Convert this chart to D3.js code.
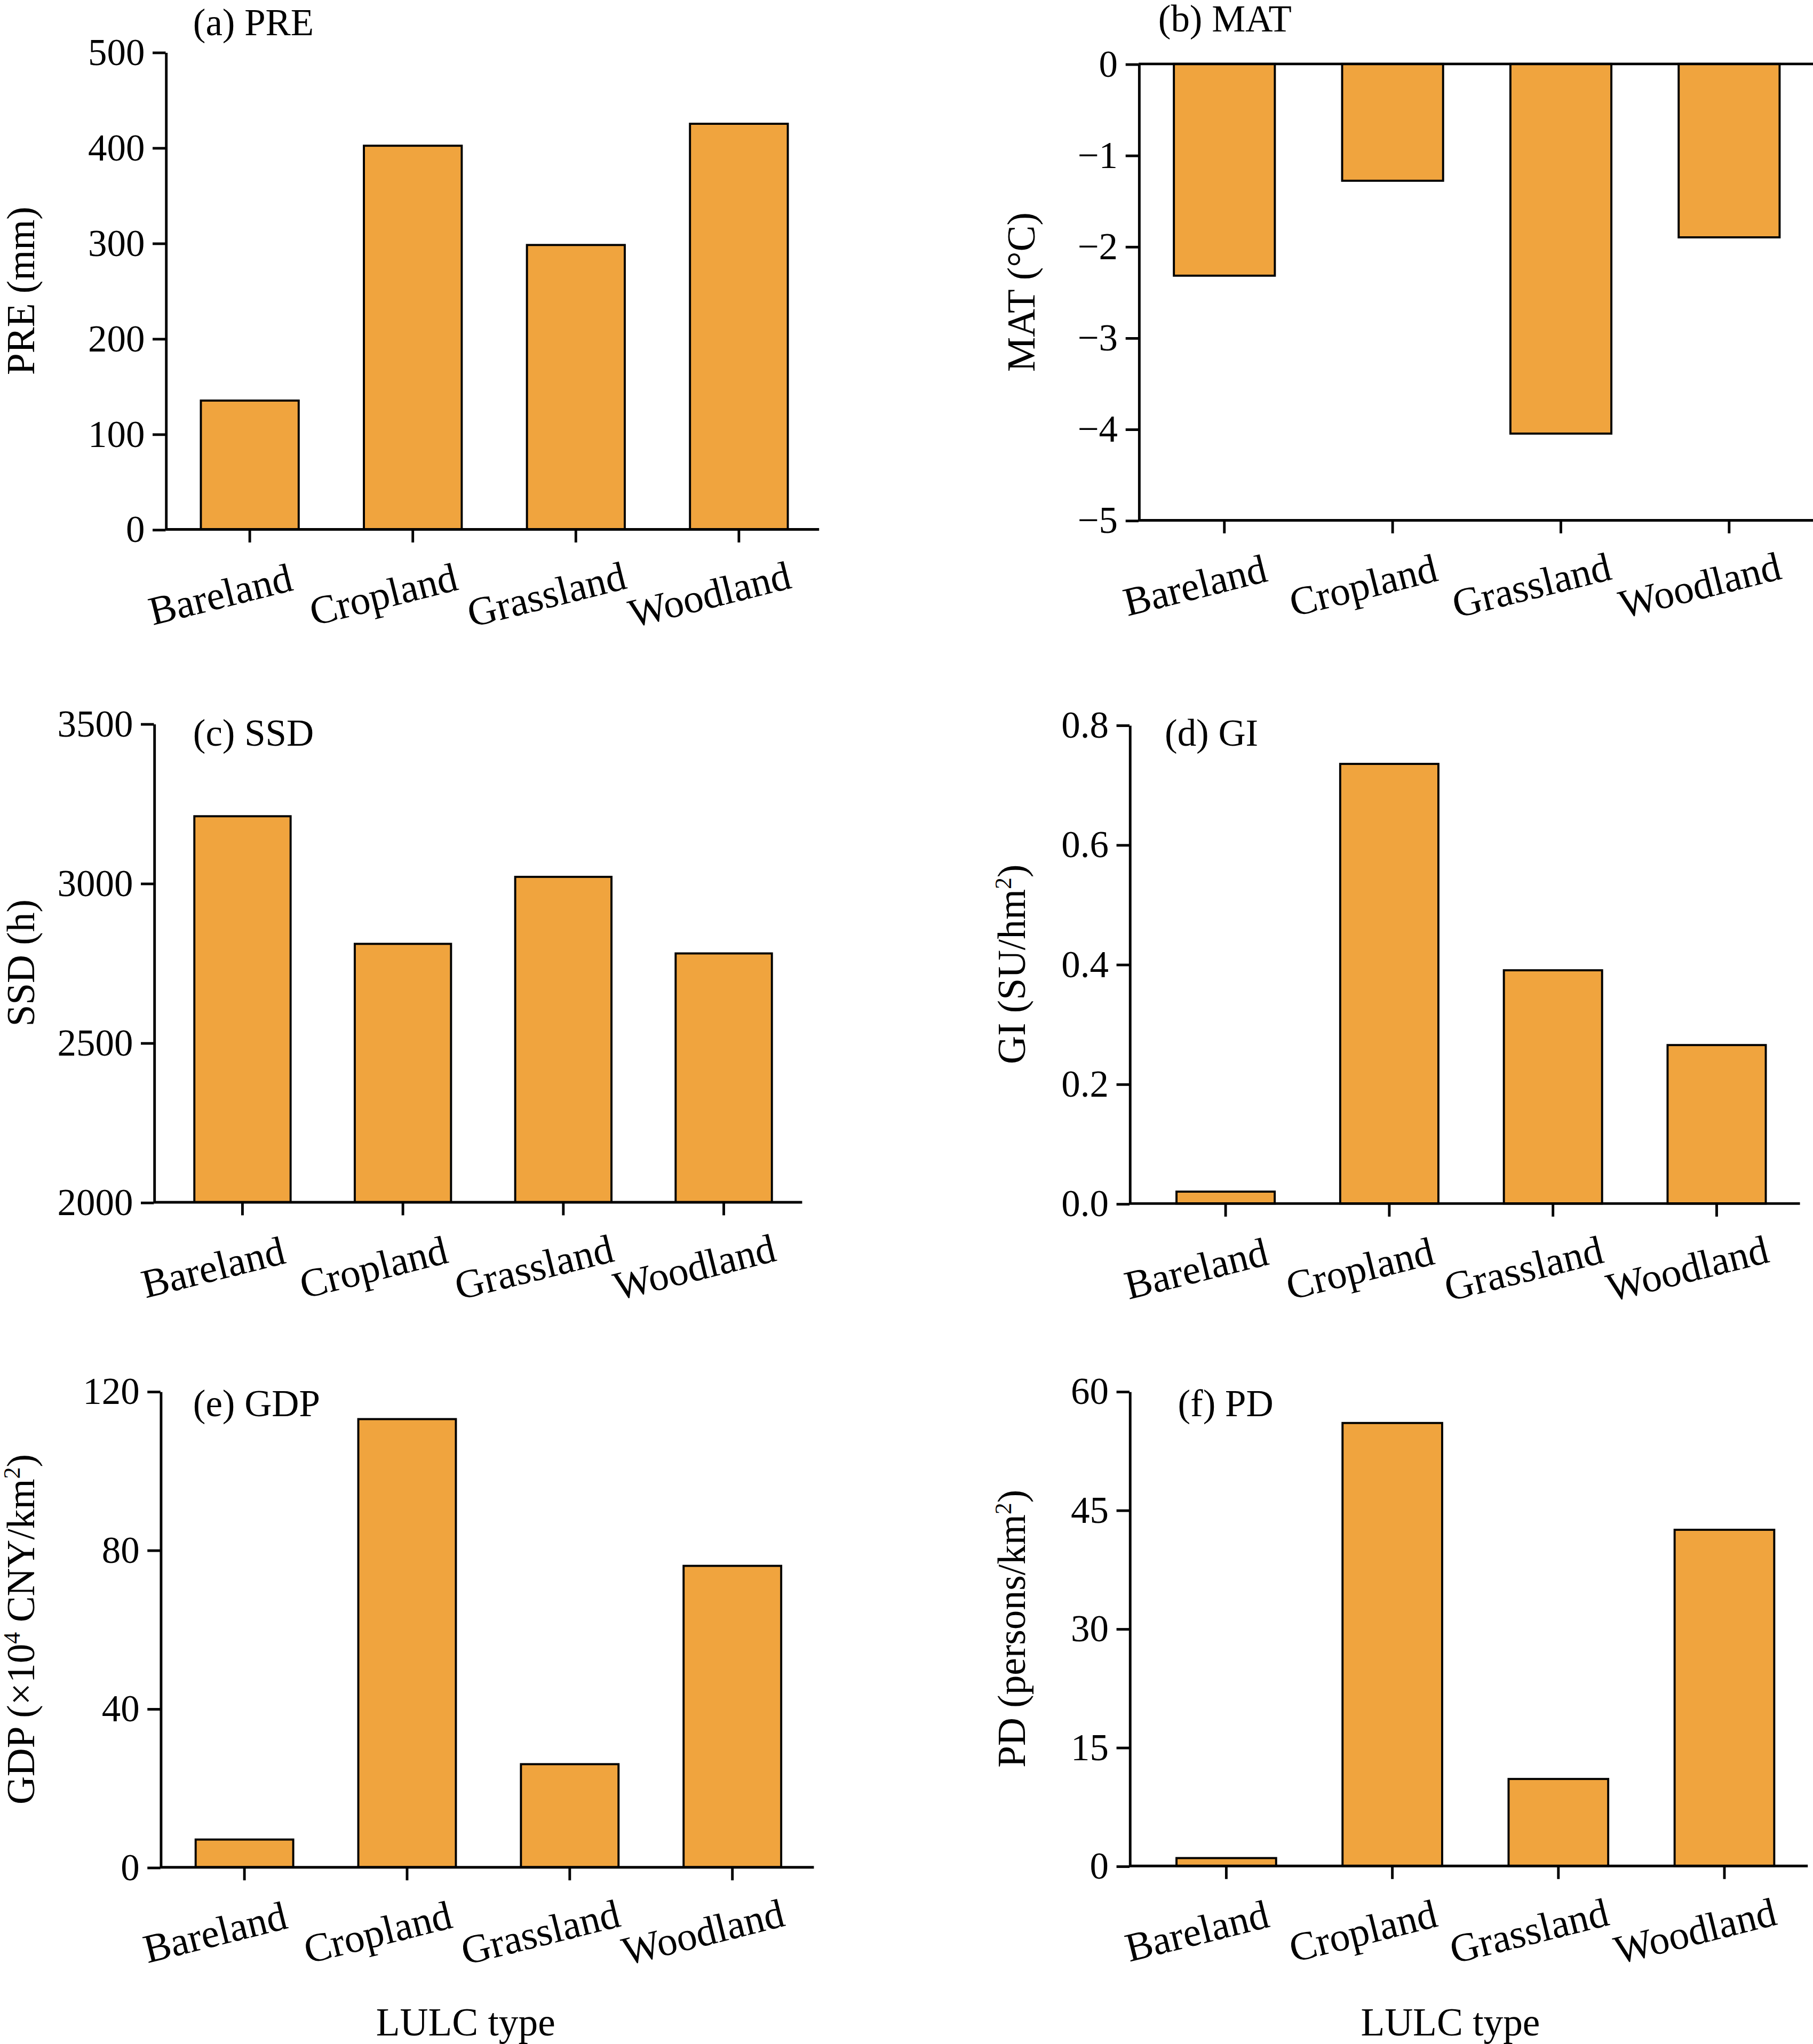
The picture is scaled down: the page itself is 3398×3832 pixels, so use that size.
<!DOCTYPE html>
<html><head><meta charset="utf-8">
<script src="https://cdn.jsdelivr.net/npm/d3@7"></script>
<style>body{margin:0;background:#fff}</style>
</head><body>
<div id="chart"></div>
<script>
const W = 3398, H = 3832;
const categories = ['Bareland', 'Cropland', 'Grassland', 'Woodland'];
const preValues = [135, 402, 298, 425];
const matValues = [-2.32, -1.28, -4.05, -1.9];
const ssdValues = [3210, 2810, 3020, 2780];
const giValues = [0.02, 0.735, 0.39, 0.265];
const gdpValues = [7, 113, 26, 76];
const pdValues = [1, 56, 11, 42.5];
const preTicks = [0, 100, 200, 300, 400, 500];
const matTicks = [0, -1, -2, -3, -4, -5];
const ssdTicks = [2000, 2500, 3000, 3500];
const giTicks = [0, 0.2, 0.4, 0.6, 0.8];
const gdpTicks = [0, 40, 80, 120];
const pdTicks = [0, 15, 30, 45, 60];

const BAR = '#f0a43e';
const FONT = '"Liberation Serif", "Times New Roman", serif';

let svg = d3.select('#chart').append('svg')
  .attr('width', W).attr('height', H)
  .attr('viewBox', '0 0 1390 1567.5')
  .style('font-family', FONT);

let panels = [
  { title: '(a) PRE', tx: 148, ty: 27, values: preValues, ticks: preTicks, domain: [0, 500],
    ax: 127, axEnd: 628, top: 40, bottom: 406, first: 154, step: 125, fmt: d => d,
    label: [{t: 'PRE (mm)'}], lx: 26 },
  { title: '(b) MAT', tx: 888, ty: 24, values: matValues, ticks: matTicks, domain: [-5, 0],
    ax: 873, axEnd: 1390, top: 49, bottom: 399, first: 900, step: 129, fmt: d => d < 0 ? '\u2212' + (-d) : d,
    label: [{t: 'MAT (°C)'}], lx: 793, neg: true },
  { title: '(c) SSD', tx: 148, ty: 572, values: ssdValues, ticks: ssdTicks, domain: [2000, 3500],
    ax: 118, axEnd: 615, top: 555, bottom: 922, first: 149, step: 123, fmt: d => d,
    label: [{t: 'SSD (h)'}], lx: 26 },
  { title: '(d) GI', tx: 893, ty: 572, values: giValues, ticks: giTicks, domain: [0, 0.8],
    ax: 866, axEnd: 1380, top: 556, bottom: 923, first: 902, step: 125.5, fmt: d3.format('.1f'),
    label: [{t: 'GI (SU/hm'}, {t: '2', sup: true}, {t: ')'}], lx: 786 },
  { title: '(e) GDP', tx: 148, ty: 1086, values: gdpValues, ticks: gdpTicks, domain: [0, 120],
    ax: 123, axEnd: 624, top: 1067, bottom: 1432, first: 150, step: 124.7, fmt: d => d,
    label: [{t: 'GDP (×10'}, {t: '4', sup: true}, {t: ' CNY/km'}, {t: '2', sup: true}, {t: ')'}], lx: 26 },
  { title: '(f) PD', tx: 903, ty: 1086, values: pdValues, ticks: pdTicks, domain: [0, 60],
    ax: 866, axEnd: 1386, top: 1067, bottom: 1431, first: 902, step: 127.3, fmt: d => d,
    label: [{t: 'PD (persons/km'}, {t: '2', sup: true}, {t: ')'}], lx: 786 },
];

panels.forEach((p) => {
  let g = svg.append('g');
  let b0 = p.first - 0.2 * p.step;
  let x = d3.scaleBand().domain(categories).range([b0, b0 + 4 * p.step])
    .paddingInner(0.4).paddingOuter(0.2);
  let y = d3.scaleLinear().domain(p.domain).range([p.bottom, p.top]);
  let base = p.neg ? y(0) : y(p.domain[0]);

  g.selectAll('rect').data(p.values).enter().append('rect')
    .attr('x', (d, i) => x(categories[i]))
    .attr('width', x.bandwidth())
    .attr('y', d => Math.min(y(d), base))
    .attr('height', d => Math.abs(base - y(d)))
    .attr('fill', BAR).attr('stroke', '#000').attr('stroke-width', 1.6);

  // y axis
  let ya = g.append('g').attr('transform', `translate(${p.ax},0)`)
    .call(d3.axisLeft(y).tickValues(p.ticks).tickFormat(p.fmt).tickSize(10).tickSizeOuter(0));
  ya.select('.domain').attr('stroke-width', 2);
  ya.selectAll('.tick line').attr('stroke-width', 2);
  ya.selectAll('.tick text').attr('font-size', 29).attr('font-family', FONT).attr('fill', '#000').attr('x', -16);

  // x axis lines
  g.append('line').attr('x1', p.ax).attr('x2', p.axEnd).attr('y1', p.bottom).attr('y2', p.bottom)
    .attr('stroke', '#000').attr('stroke-width', 2);
  if (p.neg) {
    g.append('line').attr('x1', p.ax).attr('x2', p.axEnd).attr('y1', y(0)).attr('y2', y(0))
      .attr('stroke', '#000').attr('stroke-width', 2);
  }
  categories.forEach((c) => {
    let cx = x(c) + x.bandwidth() / 2;
    g.append('line').attr('x1', cx).attr('x2', cx).attr('y1', p.bottom).attr('y2', p.bottom + 10)
      .attr('stroke', '#000').attr('stroke-width', 2);
    g.append('text').attr('transform', `translate(${cx - 20},${p.bottom + 60}) rotate(-14)`)
      .attr('text-anchor', 'middle').attr('font-size', 31).text(c);
  });

  g.append('text').attr('x', p.tx).attr('y', p.ty).attr('font-size', 29).text(p.title);

  let yl = g.append('text')
    .attr('transform', `translate(${p.lx},${(p.top + p.bottom) / 2}) rotate(-90)`)
    .attr('text-anchor', 'middle').attr('font-size', 30);
  p.label.forEach((s, i) => {
    let prevSup = i > 0 && p.label[i - 1].sup;
    yl.append('tspan').attr('font-size', s.sup ? 18 : 30)
      .attr('dy', s.sup ? -11 : (prevSup ? 11 : 0)).text(s.t);
  });
});

svg.append('text').attr('x', 357).attr('y', 1561).attr('text-anchor', 'middle').attr('font-size', 30).text('LULC type');
svg.append('text').attr('x', 1112).attr('y', 1561).attr('text-anchor', 'middle').attr('font-size', 30).text('LULC type');
</script>
</body></html>
